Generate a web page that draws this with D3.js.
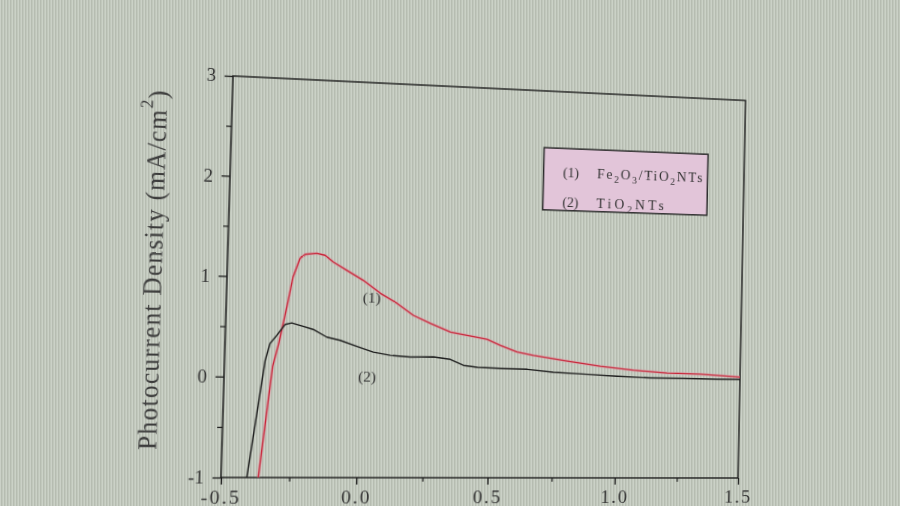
<!DOCTYPE html>
<html><head><meta charset="utf-8">
<script src="https://cdn.jsdelivr.net/npm/d3@7"></script>
<style>
html,body{margin:0;padding:0;}
body{width:900px;height:506px;overflow:hidden;background-color:#c1c8bc;
 background-image:repeating-linear-gradient(90deg, rgba(255,255,255,0.16) 0px, rgba(255,255,255,0.16) 1px, rgba(0,0,0,0.06) 1px, rgba(0,0,0,0.06) 2px, rgba(0,0,0,0) 2px, rgba(0,0,0,0) 3px);}
#wrap{position:absolute;left:0;top:0;width:900px;height:506px;transform-origin:0 0;}
svg{overflow:visible;display:block;}
</style></head><body><div id="wrap"></div>
<script>
// ---- data ----
const xTicks = [-0.5, 0, 0.5, 1, 1.5];
const xMinor = [-0.25, 0.25, 0.75, 1.25];
const yTicks = [-1, 0, 1, 2, 3];
const yMinor = [-0.5, 0.5, 1.5, 2.5];

// (1) Fe2O3/TiO2NTs
const feX = [-0.364, -0.323, -0.302, -0.277, -0.257, -0.233, -0.214, -0.171, -0.140, -0.109, -0.057, 0.006, 0.072, 0.136, 0.199, 0.265, 0.343, 0.407, 0.485, 0.537, 0.603, 0.667, 0.800, 0.933, 1.065, 1.201, 1.336, 1.500];
const feY = [-1.00, 0.107, 0.348, 0.703, 1.005, 1.195, 1.237, 1.250, 1.232, 1.167, 1.086, 0.989, 0.862, 0.764, 0.646, 0.568, 0.483, 0.452, 0.415, 0.356, 0.290, 0.259, 0.206, 0.156, 0.120, 0.096, 0.088, 0.063];
// (2) TiO2NTs
const tiX = [-0.406, -0.351, -0.335, -0.311, -0.281, -0.257, -0.214, -0.177, -0.125, -0.075, -0.011, 0.051, 0.116, 0.192, 0.280, 0.345, 0.396, 0.450, 0.540, 0.645, 0.747, 0.882, 1.002, 1.134, 1.268, 1.406, 1.500];
const tiY = [-1.00, 0.166, 0.336, 0.418, 0.529, 0.545, 0.513, 0.484, 0.409, 0.379, 0.321, 0.266, 0.236, 0.222, 0.227, 0.204, 0.145, 0.127, 0.120, 0.114, 0.087, 0.071, 0.055, 0.042, 0.043, 0.038, 0.040];

const seriesNums = ["(1)", "(2)"];
const seriesNames = ["Fe2O3/TiO2NTs", "TiO2NTs"];
const yTitle = "Photocurrent Density (mA/cm";

// ---- layout ----
const L = 221, T = 76, PW = 517, PH = 401;
const serif = "'Liberation Serif','Times New Roman',serif";
const txt = '#333';

const x = d3.scaleLinear().domain([-0.5, 1.5]).range([L, L + PW]);
const y = d3.scaleLinear().domain([-1, 3]).range([T + PH, T]);

const svg = d3.select('#wrap').append('svg').attr('width', 900).attr('height', 506);

svg.append('clipPath').attr('id', 'clip').append('rect')
  .attr('x', x(-0.5)).attr('y', y(3)).attr('width', x(1.5) - x(-0.5)).attr('height', y(-1) - y(3));

// axes
const ink = '#1c1c1c';
const gx = svg.append('g').attr('transform', `translate(0,${y(-1)})`)
  .call(d3.axisBottom(x).tickValues(xTicks).tickSize(7).tickFormat(d => d.toFixed(1)));
gx.select('.domain').remove();
gx.selectAll('line').attr('stroke', ink).attr('stroke-width', 1.3);
gx.selectAll('text').attr('y', 26).attr('dy', 0).attr('fill', txt)
  .style('font-family', serif).style('font-size', '19px').style('letter-spacing', '2px');

const gxm = svg.append('g').attr('transform', `translate(0,${y(-1)})`)
  .call(d3.axisBottom(x).tickValues(xMinor).tickSize(4).tickFormat(''));
gxm.select('.domain').remove();
gxm.selectAll('line').attr('stroke', ink).attr('stroke-width', 1.2);

const gy = svg.append('g').attr('transform', `translate(${x(-0.5)},0)`)
  .call(d3.axisLeft(y).tickValues(yTicks).tickSize(8).tickFormat(d => String(d)));
gy.select('.domain').remove();
gy.selectAll('line').attr('stroke', ink).attr('stroke-width', 1.3);
gy.selectAll('text').attr('x', -16).attr('fill', txt)
  .style('font-family', serif).style('font-size', '18px');

const gym = svg.append('g').attr('transform', `translate(${x(-0.5)},0)`)
  .call(d3.axisLeft(y).tickValues(yMinor).tickSize(5).tickFormat(''));
gym.select('.domain').remove();
gym.selectAll('line').attr('stroke', ink).attr('stroke-width', 1.2);

// frame
svg.append('rect')
  .attr('x', x(-0.5)).attr('y', y(3))
  .attr('width', x(1.5) - x(-0.5)).attr('height', y(-1) - y(3))
  .attr('fill', 'none').attr('stroke', ink).attr('stroke-width', 1.4);

// curves
const line = d3.line().x(d => x(d[0])).y(d => y(d[1]));
const plot = svg.append('g').attr('clip-path', 'url(#clip)');
plot.append('path').datum(d3.zip(feX, feY)).attr('d', line)
  .attr('fill', 'none').attr('stroke', 'rgba(225,150,165,0.45)').attr('stroke-width', 3.2).attr('stroke-linejoin', 'round');
plot.append('path').datum(d3.zip(feX, feY)).attr('d', line)
  .attr('fill', 'none').attr('stroke', '#c8263a').attr('stroke-width', 1.3).attr('stroke-linejoin', 'round');
plot.append('path').datum(d3.zip(tiX, tiY)).attr('d', line)
  .attr('fill', 'none').attr('stroke', '#1e1e1e').attr('stroke-width', 1.4).attr('stroke-linejoin', 'round');

// curve labels
const lab = [[0.04, 0.82], [0.03, 0.02]];
seriesNums.forEach((s, i) => {
  svg.append('text').attr('x', x(lab[i][0])).attr('y', y(lab[i][1]))
    .attr('text-anchor', 'middle').attr('dominant-baseline', 'central')
    .attr('fill', txt).style('font-family', serif).style('font-size', '15px').text(s);
});

// y title
const yt = svg.append('text')
  .attr('transform', `translate(151,272) rotate(-90)`)
  .attr('text-anchor', 'middle').attr('dominant-baseline', 'central')
  .attr('fill', '#3c3c3c').style('font-family', serif).style('font-size', '25px')
  .attr('textLength', 356).attr('lengthAdjust', 'spacing');
yt.append('tspan').text(yTitle);
yt.append('tspan').attr('dy', -10).style('font-size', '17px').text('2');
yt.append('tspan').attr('dy', 10).text(')');

// legend
const lx0 = x(0.69), lx1 = x(1.35), ly0 = y(2.41), ly1 = y(1.765);
svg.append('rect').attr('x', lx0).attr('y', ly0).attr('width', lx1 - lx0).attr('height', ly1 - ly0)
  .attr('fill', '#e2c5d9').attr('stroke', '#2b2b2b').attr('stroke-width', 1.5);
const rowsY = [y(2.16), y(1.855)];
const nameLen = [110, 70];
function addSubs(sel, str) {
  const parts = str.match(/[0-9]+|[^0-9]+/g);
  let shifted = false;
  parts.forEach(p => {
    if (/^[0-9]+$/.test(p)) {
      sel.append('tspan').attr('dy', shifted ? 0 : 4).style('font-size', '10px').text(p);
      shifted = true;
    } else {
      sel.append('tspan').attr('dy', shifted ? -4 : 0).text(p);
      shifted = false;
    }
  });
}
seriesNames.forEach((n, i) => {
  svg.append('text').attr('x', lx0 + 20).attr('y', rowsY[i]).attr('dominant-baseline', 'central')
    .attr('fill', txt).style('font-family', serif).style('font-size', '14px').text(seriesNums[i]);
  const t = svg.append('text').attr('x', lx0 + 55).attr('y', rowsY[i] + 5)
    .attr('fill', txt).style('font-family', serif).style('font-size', '14px')
    .attr('textLength', nameLen[i]).attr('lengthAdjust', 'spacing');
  addSubs(t, n);
});

// ---- photo perspective (homography inner rect -> page quad) ----
const quad = [[221, 477.5], [738, 478], [745.5, 100.5], [233, 76]]; // BL, BR, TR, TL
function squareToQuad(p) {
  const [x0, y0] = p[0], [x1, y1] = p[1], [x2, y2] = p[2], [x3, y3] = p[3];
  const sx = x0 - x1 + x2 - x3, sy = y0 - y1 + y2 - y3;
  const dx1 = x1 - x2, dx2 = x3 - x2, dy1 = y1 - y2, dy2 = y3 - y2;
  const det = dx1 * dy2 - dx2 * dy1;
  const g = (sx * dy2 - dx2 * sy) / det, h = (dx1 * sy - sx * dy1) / det;
  return [[x1 - x0 + g * x1, x3 - x0 + h * x3, x0], [y1 - y0 + g * y1, y3 - y0 + h * y3, y0], [g, h, 1]];
}
function mul(A, B) {
  return A.map((r, i) => B[0].map((_, j) => r[0] * B[0][j] + r[1] * B[1][j] + r[2] * B[2][j]));
}
const S = squareToQuad(quad);
const N = [[1 / PW, 0, -L / PW], [0, -1 / PH, (T + PH) / PH], [0, 0, 1]];
const H = mul(S, N);
document.getElementById('wrap').style.transform =
  `matrix3d(${H[0][0]},${H[1][0]},0,${H[2][0]},${H[0][1]},${H[1][1]},0,${H[2][1]},0,0,1,0,${H[0][2]},${H[1][2]},0,${H[2][2]})`;
</script>
</body></html>
